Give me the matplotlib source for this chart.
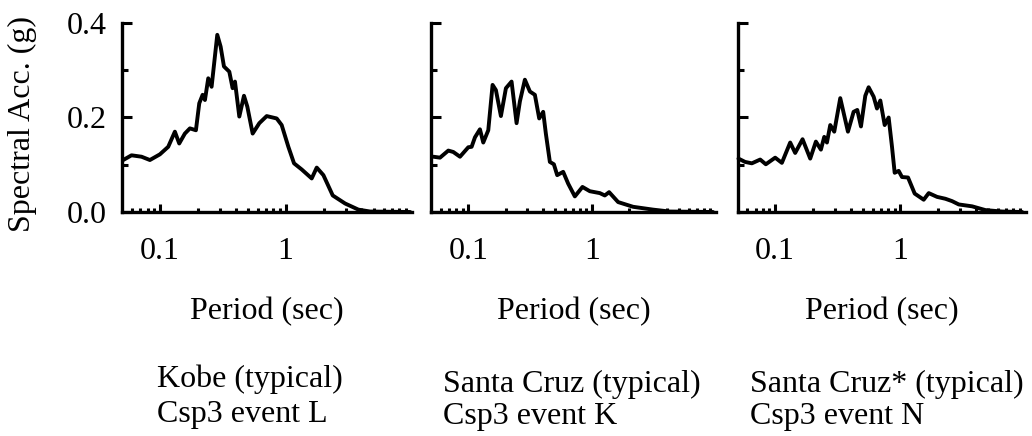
import matplotlib
matplotlib.use("Agg")
import matplotlib.pyplot as plt
from matplotlib.ticker import FixedLocator, NullFormatter, FixedFormatter

plt.rcParams['font.family'] = ['Liberation Serif', 'DejaVu Serif']

# ---- data ----
kobe_period = [0.0511, 0.0595, 0.0715, 0.0833, 0.100, 0.1165, 0.1316, 0.1425, 0.158, 0.1733,
               0.1934, 0.2056, 0.2186, 0.2281, 0.2424, 0.2577, 0.2859, 0.3040, 0.3231, 0.3563,
               0.3787, 0.3953, 0.4279, 0.4661, 0.4955, 0.5464, 0.6174, 0.7063, 0.848, 0.9293,
               1.050, 1.165, 1.341, 1.610, 1.765, 1.994, 2.366, 2.966, 3.786, 4.690, 9.76]
kobe_sa = [0.110, 0.120, 0.117, 0.110, 0.122, 0.138, 0.170, 0.145, 0.166, 0.177,
           0.173, 0.230, 0.248, 0.237, 0.283, 0.265, 0.375, 0.350, 0.308, 0.297,
           0.262, 0.276, 0.202, 0.246, 0.223, 0.166, 0.188, 0.203, 0.198, 0.184,
           0.138, 0.103, 0.090, 0.071, 0.094, 0.078, 0.035, 0.018, 0.005, 0.001, 0.0]

sc_period = [0.0522, 0.0591, 0.0690, 0.0757, 0.0857, 0.100, 0.1064, 0.1132, 0.1242, 0.1321,
             0.1450, 0.1571, 0.1671, 0.1834, 0.2013, 0.2236, 0.2454, 0.2610, 0.2864, 0.3144,
             0.3449, 0.3738, 0.4025, 0.4229, 0.4557, 0.4909, 0.5222, 0.5836, 0.6405, 0.7250,
             0.8356, 0.9576, 1.153, 1.265, 1.371, 1.621, 2.141, 3.104, 4.229, 9.46]
sc_sa = [0.117, 0.115, 0.130, 0.127, 0.117, 0.137, 0.138, 0.158, 0.175, 0.147,
         0.173, 0.269, 0.258, 0.203, 0.262, 0.276, 0.188, 0.234, 0.280, 0.255,
         0.248, 0.198, 0.212, 0.166, 0.106, 0.101, 0.078, 0.085, 0.060, 0.033,
         0.053, 0.044, 0.040, 0.035, 0.042, 0.021, 0.011, 0.005, 0.001, 0.0]

scs_period = [0.0509, 0.0575, 0.0651, 0.0759, 0.0842, 0.100, 0.1131, 0.1318, 0.1445, 0.1655,
              0.1905, 0.2115, 0.2319, 0.2466, 0.2591, 0.2754, 0.2965, 0.3311, 0.3814, 0.4233,
              0.4529, 0.4846, 0.5248, 0.5581, 0.6120, 0.6506, 0.6918, 0.7497, 0.8065, 0.8577,
              0.9010, 0.9698, 1.031, 1.152, 1.302, 1.537, 1.686, 1.965, 2.291, 2.590,
              2.929, 3.744, 4.786, 6.507, 9.40]
scs_sa = [0.113, 0.106, 0.103, 0.111, 0.101, 0.115, 0.104, 0.147, 0.125, 0.154,
          0.113, 0.149, 0.132, 0.159, 0.147, 0.184, 0.170, 0.241, 0.170, 0.212,
          0.216, 0.181, 0.246, 0.264, 0.244, 0.219, 0.236, 0.184, 0.200, 0.138,
          0.083, 0.087, 0.074, 0.073, 0.039, 0.026, 0.040, 0.032, 0.028, 0.023,
          0.016, 0.012, 0.004, 0.001, 0.0]

captions = [("Kobe (typical)", "Csp3 event L"),
            ("Santa Cruz (typical)", "Csp3 event K"),
            ("Santa Cruz* (typical)", "Csp3 event N")]
x_major = [0.1, 1]
x_major_labels = ["0.1", "1"]
x_minor = [0.06, 0.07, 0.08, 0.09, 0.2, 0.3, 0.4, 0.5, 0.6, 0.7, 0.8, 0.9,
           2, 3, 4, 5, 6, 7, 8, 9]
y_major = [0.0, 0.2, 0.4]
y_major_labels = ["0.0", "0.2", "0.4"]
y_minor = [0.1, 0.3]
x_label = "Period (sec)"
y_label = "Spectral Acc. (g)"

series = [(kobe_period, kobe_sa), (sc_period, sc_sa), (scs_period, scs_sa)]

# ---- layout ----
W, H = 1032, 436
fig = plt.figure(figsize=(W / 100, H / 100), dpi=100)
FS = 23

ax_px = [(122, 411.5), (431, 716), (737.5, 1025.5)]
top_px, bot_px = 23, 212
# (left x, baseline line 1, baseline line 2) in pixels
caption_pos = [(157, 387, 422), (443, 392, 424), (750, 392, 424)]

for i, ((x0, x1), (per, sa), cap) in enumerate(zip(ax_px, series, captions)):
    ax = fig.add_axes([x0 / W, 1 - bot_px / H, (x1 - x0) / W, (bot_px - top_px) / H])
    ax.plot(per, sa, color='black', lw=2.8, solid_joinstyle='round',
            solid_capstyle='round', clip_on=False, zorder=3)
    ax.set_xscale('log')
    ax.set_xlim(0.05, 10)
    ax.set_ylim(0, 0.4)
    for s in ['top', 'right']:
        ax.spines[s].set_visible(False)
    for s in ['left', 'bottom']:
        ax.spines[s].set_linewidth(2.4)
    ax.xaxis.set_major_locator(FixedLocator(x_major))
    ax.xaxis.set_major_formatter(FixedFormatter(x_major_labels))
    ax.xaxis.set_minor_locator(FixedLocator(x_minor))
    ax.xaxis.set_minor_formatter(NullFormatter())
    ax.yaxis.set_major_locator(FixedLocator(y_major))
    ax.yaxis.set_minor_locator(FixedLocator(y_minor))
    if i == 0:
        ax.yaxis.set_major_formatter(FixedFormatter(y_major_labels))
    else:
        ax.yaxis.set_major_formatter(NullFormatter())
    ax.tick_params(axis='x', which='major', direction='in', length=6, width=2.2,
                   labelsize=FS, pad=18)
    ax.tick_params(axis='x', which='minor', direction='in', length=3.2, width=2.2)
    ax.tick_params(axis='y', which='major', direction='in', length=7, width=2.2,
                   labelsize=FS, pad=11)
    ax.tick_params(axis='y', which='minor', direction='in', length=4.5, width=2.2)
    ax.set_xlabel(x_label, fontsize=FS, labelpad=22)
    cx, cy1, cy2 = caption_pos[i]
    fig.text(cx / W, 1 - cy1 / H, cap[0], fontsize=FS, ha='left', va='baseline')
    fig.text(cx / W, 1 - cy2 / H, cap[1], fontsize=FS, ha='left', va='baseline')

fig.text(22 / W, 1 - 123.5 / H, y_label, fontsize=FS, rotation=90, ha='center', va='center')

fig.savefig("out.png", dpi=100)
